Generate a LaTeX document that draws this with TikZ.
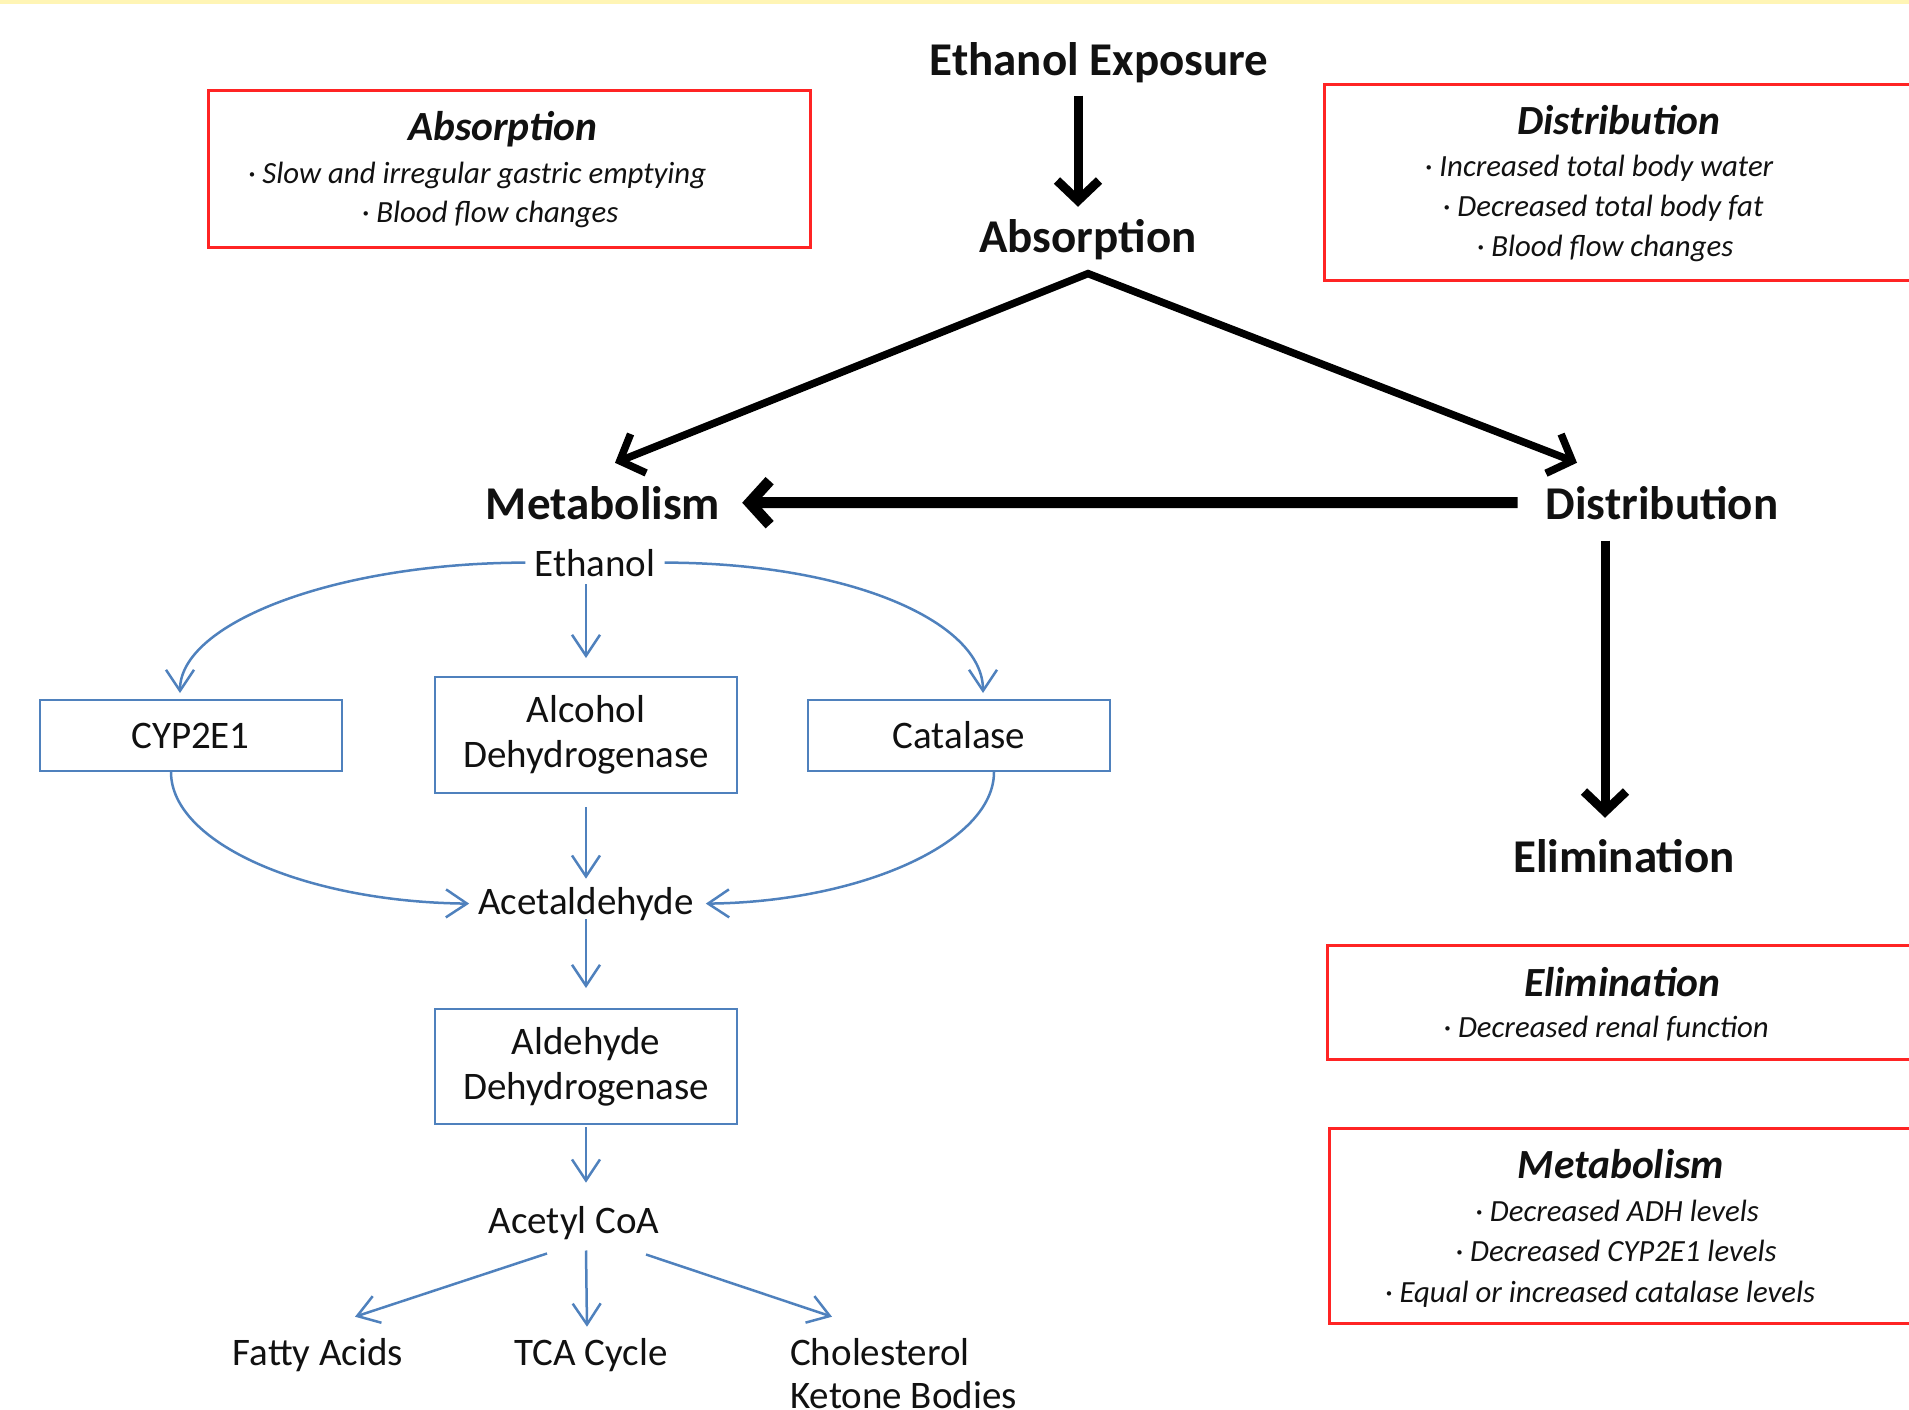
\documentclass[tikz,border=0pt]{standalone}
\usepackage{fontspec}
\setmainfont{Carlito}
\usetikzlibrary{arrows.meta}
\definecolor{bblue}{HTML}{4F81BD}
\definecolor{boxred}{HTML}{FF2424}
\definecolor{topyel}{HTML}{FFF5B5}
\definecolor{ink}{HTML}{111111}
\tikzset{
  blk/.style={font=\fontsize{47}{52}\selectfont\bfseries, text=ink, inner sep=0pt, anchor=base},
  blu/.style={font=\fontsize{39}{45}\selectfont, text=ink, inner sep=0pt, anchor=base},
  ttl/.style={font=\fontsize{41.5}{44}\selectfont\bfseries\itshape, text=ink, inner sep=0pt, anchor=base},
  itm/.style={font=\fontsize{30.8}{34}\selectfont\itshape, text=ink, inner sep=0pt, anchor=base},
  redbox/.style={draw=boxred, line width=2.5pt, anchor=north west, inner sep=0pt},
  bbox/.style={draw=bblue, line width=2pt, minimum width=302pt, inner sep=0pt, align=center,
     font=\fontsize{39}{45}\selectfont, text=ink},
  barr/.style={draw=bblue, line width=2.5pt, -{Straight Barb[length=21pt,width=28pt]}},
  karr/.style={line width=9pt, draw=black, -{Straight Barb[length=20pt,width=42pt]}},
}
\begin{document}
\begin{tikzpicture}[x=1pt,y=-1pt]
\useasboundingbox (0,0) rectangle (1909,1409);
\fill[topyel] (0,0) rectangle (1909,4);

% ---- red info boxes ----
\node[redbox, minimum width=602pt, minimum height=157pt] (rabs) at (207,89) {};
\node[ttl] (rabsT) at (503,140) {Absorption};
\node[itm] (rabs1) at (477,183) {\textperiodcentered\ Slow and irregular gastric emptying};
\node[itm] (rabs2) at (490,222) {\textperiodcentered\ Blood flow changes};

\node[redbox, minimum width=700pt, minimum height=196pt] (rdis) at (1323,83) {};
\node[ttl] (rdisT) at (1619,134) {Distribution};
\node[itm] (rdis1) at (1599,176) {\textperiodcentered\ Increased total body water};
\node[itm] (rdis2) at (1603,216) {\textperiodcentered\ Decreased total body fat};
\node[itm] (rdis3) at (1605,256) {\textperiodcentered\ Blood flow changes};

\node[redbox, minimum width=700pt, minimum height=114pt] (relim) at (1326,944) {};
\node[ttl] (relimT) at (1622,996) {Elimination};
\node[itm] (relim1) at (1606,1037) {\textperiodcentered\ Decreased renal function};

\node[redbox, minimum width=700pt, minimum height=195pt] (rmet) at (1328,1127) {};
\node[ttl] (rmetT) at (1621,1178) {Metabolism};
\node[itm] (rmet1) at (1617,1221) {\textperiodcentered\ Decreased ADH levels};
\node[itm] (rmet2) at (1616,1261) {\textperiodcentered\ Decreased CYP2E1 levels};
\node[itm] (rmet3) at (1600,1302) {\textperiodcentered\ Equal or increased catalase levels};

% ---- main black flow ----
\node[blk] (expo) at (1099,75) {Ethanol Exposure};
\node[blk] (absorb) at (1088,252) {Absorption};
\node[blk] (metab) at (603,519) {Metabolism};
\node[blk] (distr) at (1662,519) {Distribution};
\node[blk] (elim) at (1624,872) {Elimination};
\coordinate (apex) at ([yshift=-14pt]absorb.south);

\draw[karr, shorten <=13pt, shorten >=12pt] ([xshift=-21pt]expo.south) -- ([xshift=-10pt]absorb.north);
\draw[line width=7.5pt, miter limit=20, {Straight Barb[length=20pt,width=42pt]}-{Straight Barb[length=20pt,width=42pt]}]
  ([shift={(12pt,23pt)}]metab.north) -- (apex) -- ([shift={(-85pt,23pt)}]distr.north);
\draw[line width=11pt, -{Straight Barb[length=20pt,width=44pt]}, shorten <=28pt, shorten >=22pt] (distr.west) -- (metab.east);
\draw[karr, shorten <=21pt, shorten >=21pt] ([xshift=-57pt]distr.south) -- ([xshift=-19pt]elim.north);

% ---- blue metabolism pathway ----
\node[blu] (eth) at (595,576) {Ethanol};
\node[bbox, minimum height=71pt] (cyp) at (190.5,735.5) {CYP2E1};
\node[bbox, minimum height=116pt] (adh) at (586,735) {Alcohol\\Dehydrogenase};
\node[bbox, minimum height=71pt] (cat) at (959,735.5) {Catalase};
\node[blu] (acet) at (586,914) {Acetaldehyde};
\node[bbox, minimum height=115pt] (aldh) at (586,1066.5) {Aldehyde\\Dehydrogenase};
\node[blu] (acoa) at (574,1233) {Acetyl CoA};
\node[blu] (fatty) at (318,1365) {Fatty Acids};
\node[blu] (tca) at (591,1365) {TCA Cycle};
\node[blu, anchor=base west] (chol) at (790,1365) {Cholesterol};
\node[blu, anchor=base west] (keto) at (790,1408) {Ketone Bodies};

\draw[barr, shorten <=8pt, shorten >=18pt] (eth.south -| adh.north) -- (adh.north);
\draw[barr] ([xshift=-9pt]eth.west) .. controls (335,563) and (180,623) .. ([shift={(-10.5pt,6pt)}]cyp.north);
\draw[barr] ([xshift=9pt]eth.east) .. controls (853,563) and (983,623) .. ([shift={(24pt,6pt)}]cat.north);
\draw[barr, shorten <=13pt, shorten >=8pt] (adh.south) -- (acet.north -| adh.south);
\draw[barr] ([xshift=-19.5pt]cyp.south) .. controls (171,843) and (305,902) .. ([xshift=-9pt]acet.west);
\draw[barr] ([xshift=35pt]cat.south) .. controls (994,843) and (860,902) .. ([xshift=12pt]acet.east);
\draw[barr, shorten <=5pt, shorten >=20pt] (acet.base -| aldh.north) -- (aldh.north);
\draw[barr, shorten <=2pt, shorten >=23pt] (aldh.south) -- (acoa.north -| aldh.south);
\draw[barr] ([shift={(-27pt,-14pt)}]acoa.south) -- ([shift={(37pt,21pt)}]fatty.north);
\draw[barr] ([shift={(12pt,-11pt)}]acoa.south) -- ([shift={(-4pt,11pt)}]tca.north);
\draw[barr] ([shift={(72pt,-15pt)}]acoa.south) -- ([shift={(42pt,21pt)}]chol.north west);
\end{tikzpicture}
\end{document}
